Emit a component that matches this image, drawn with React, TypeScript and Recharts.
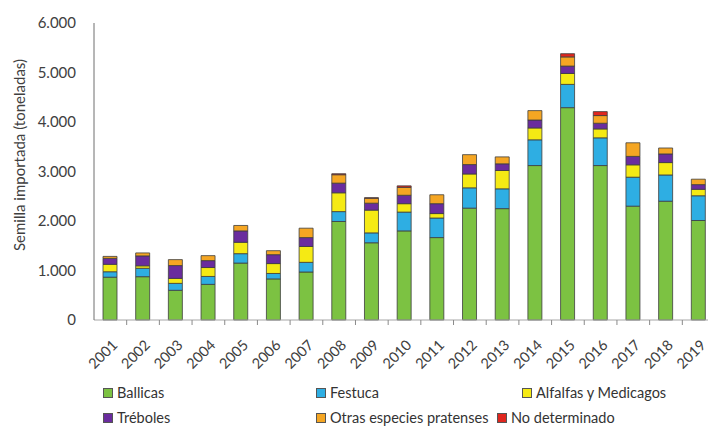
import React from 'react'
import { BarChart, Bar, XAxis, YAxis, Label } from 'recharts'

const years = ['2001', '2002', '2003', '2004', '2005', '2006', '2007', '2008', '2009', '2010',
  '2011', '2012', '2013', '2014', '2015', '2016', '2017', '2018', '2019']

const ballicas = [865, 875, 600, 720, 1150, 830, 970, 1990, 1560, 1800, 1665, 2260, 2250, 3120, 4290, 3120, 2300, 2400, 2010]
const festuca = [110, 170, 140, 160, 190, 110, 195, 200, 200, 380, 395, 410, 400, 520, 470, 560, 585, 530, 500]
const alfalfas = [150, 50, 100, 180, 230, 200, 320, 380, 460, 170, 90, 280, 370, 240, 220, 180, 250, 250, 130]
const treboles = [120, 200, 260, 140, 230, 180, 180, 195, 140, 170, 200, 190, 135, 160, 150, 115, 170, 175, 95]
const otras = [40, 60, 120, 100, 110, 80, 190, 170, 100, 160, 180, 200, 140, 190, 185, 155, 275, 120, 110]
const noDeterminado = [0, 0, 0, 0, 0, 0, 0, 20, 10, 30, 0, 0, 0, 0, 65, 80, 0, 0, 0]

const yTicks = [0, 1000, 2000, 3000, 4000, 5000, 6000]

const series = [
  { key: 'ballicas', name: 'Ballicas', color: '#7cc242', values: ballicas },
  { key: 'festuca', name: 'Festuca', color: '#2eaee3', values: festuca },
  { key: 'alfalfas', name: 'Alfalfas y Medicagos', color: '#f5ea14', values: alfalfas },
  { key: 'treboles', name: 'Tréboles', color: '#6a2c9e', values: treboles },
  { key: 'otras', name: 'Otras especies pratenses', color: '#f5a623', values: otras },
  { key: 'noDet', name: 'No determinado', color: '#e0261e', values: noDeterminado },
]

// legend layout, two rows of three like the original
const legendPos: Record<string, { left: number; top: number }> = {
  ballicas: { left: 103, top: 384 },
  festuca: { left: 316, top: 384 },
  alfalfas: { left: 522, top: 384 },
  treboles: { left: 103, top: 409 },
  otras: { left: 316, top: 409 },
  noDet: { left: 497, top: 409 },
}

const data = years.map((year, i) => {
  const row: Record<string, string | number> = { year }
  series.forEach(s => { row[s.key] = s.values[i] })
  return row
})

const FONT = 'Lato, "Open Sans", sans-serif'
const TEXT = '#404040'
const BAND = (715 - 94) / years.length

const fmt = (v: number) => String(v).replace(/\B(?=(\d{3})+(?!\d))/g, '.')

// eslint-disable-next-line @typescript-eslint/no-explicit-any
function YearTick(props: any) {
  const { x, y, payload, index } = props
  return (
    <g>
      {index > 0 && (
        <line x1={x - BAND / 2} x2={x - BAND / 2} y1={y} y2={y + 5} stroke="#8a8a8a" strokeWidth={1} />
      )}
      <text
        x={x + 8}
        y={y + 26}
        transform={`rotate(-45, ${x + 8}, ${y + 26})`}
        textAnchor="end"
        fontSize={14.5}
        fontFamily={FONT}
        fill={TEXT}
      >
        {payload.value}
      </text>
    </g>
  )
}

export default function App() {
  return (
    <div style={{ position: 'absolute', left: 0, top: 0, width: 708, height: 426, overflow: 'hidden', background: '#fff' }}>
      <BarChart
        width={715}
        height={426}
        data={data}
        margin={{ top: 23, right: 0, left: 0, bottom: 56 }}
        barSize={14}
      >
        <XAxis
          dataKey="year"
          height={50}
          tick={<YearTick />}
          tickLine={false}
          tickSize={0}
          tickMargin={0}
          interval={0}
          axisLine={{ stroke: '#a6a6a6' }}
        />
        <YAxis
          width={94}
          domain={[0, 6000]}
          ticks={yTicks}
          tickFormatter={fmt}
          tickLine={false}
          tickSize={6}
          tickMargin={12}
          axisLine={{ stroke: '#6f6f6f' }}
          tick={{ fontSize: 15, fontFamily: FONT, fill: TEXT }}
        >
          <Label
            content={() => (
              <text
                x={19}
                y={155}
                transform="rotate(-90, 19, 155)"
                textAnchor="middle"
                dominantBaseline="central"
                fontSize={15}
                fontFamily={FONT}
                fill={TEXT}
              >
                Semilla importada (toneladas)
              </text>
            )}
          />
        </YAxis>
        {series.map(s => (
          <Bar
            key={s.key}
            dataKey={s.key}
            name={s.name}
            stackId="a"
            fill={s.color}
            stroke="#3d3d3d"
            strokeWidth={0.8}
            isAnimationActive={false}
          />
        ))}
      </BarChart>
      {series.map(s => (
        <div
          key={s.key}
          style={{
            position: 'absolute',
            left: legendPos[s.key].left,
            top: legendPos[s.key].top,
            display: 'flex',
            alignItems: 'center',
            fontFamily: FONT,
            fontSize: 14.5,
            color: '#333',
            whiteSpace: 'nowrap',
            lineHeight: '18px',
          }}
        >
          <span
            style={{
              display: 'inline-block',
              width: 8,
              height: 8,
              background: s.color,
              border: '1px solid #555',
              marginRight: 4,
            }}
          />
          {s.name}
        </div>
      ))}
    </div>
  )
}
